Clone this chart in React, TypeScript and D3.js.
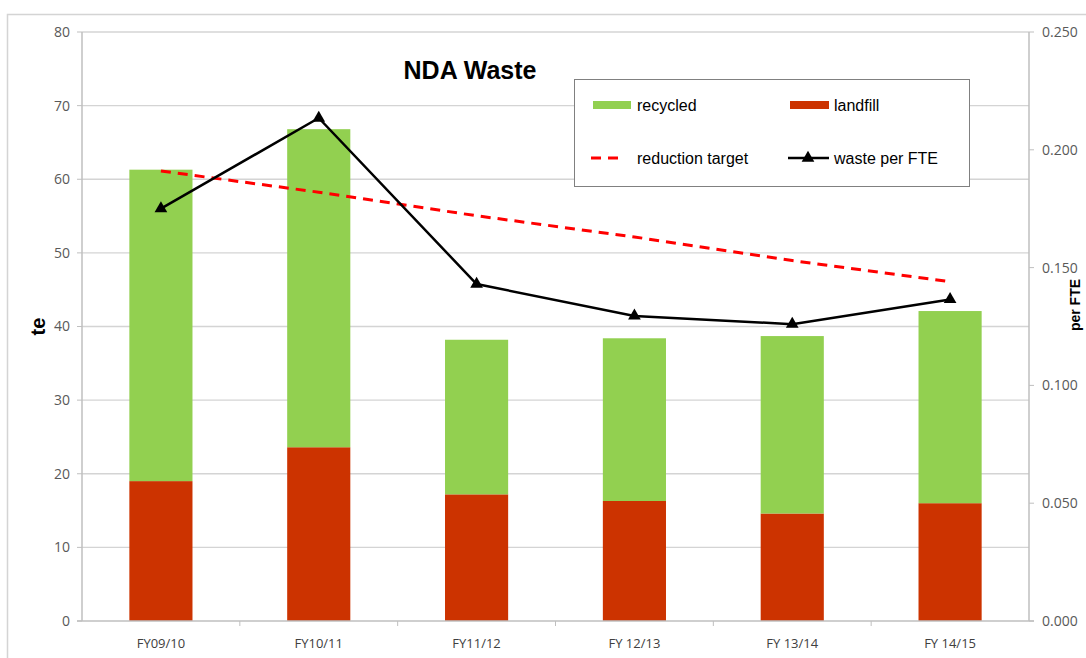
import React from 'react';
import * as d3 from 'd3';

const categories = ['FY09/10', 'FY10/11', 'FY11/12', 'FY 12/13', 'FY 13/14', 'FY 14/15'];
const landfill = [19.0, 23.6, 17.2, 16.3, 14.6, 16.0];
const recycled = [42.3, 43.2, 21.0, 22.1, 24.1, 26.1];
const wastePerFte = [0.175, 0.2135, 0.143, 0.1295, 0.126, 0.1365];
const reductionTarget = [0.191, 0.182, 0.172, 0.163, 0.153, 0.144];
const leftTicks = [0, 10, 20, 30, 40, 50, 60, 70, 80];
const rightTicks = [0, 0.05, 0.1, 0.15, 0.2, 0.25];

const W = 1086;
const H = 658;
const plot = {left: 82, top: 32, right: 1029, bottom: 621};

const GREEN = '#92D050';
const RED = '#CC3300';
const GRID = '#D4D4D4';
const AXIS = '#BFBFBF';
const TICK_FONT = '"Open Sans", "DejaVu Sans", sans-serif';
const LEG_FONT = '"Liberation Sans", Arial, sans-serif';

export default function App() {
  const x = d3.scaleBand<string>()
    .domain(categories)
    .range([plot.left, plot.right])
    .paddingInner(0.6)
    .paddingOuter(0.3);
  const band = d3.scaleBand<string>().domain(categories).range([plot.left, plot.right]);
  const y = d3.scaleLinear().domain([0, 80]).range([plot.bottom, plot.top]);
  const y2 = d3.scaleLinear().domain([0, 0.25]).range([plot.bottom, plot.top]);
  const cx = (c: string) => (band(c) as number) + band.bandwidth() / 2;

  const line = d3.line<number>()
    .x((_, i) => cx(categories[i]))
    .y(d => y2(d));
  const tri = d3.symbol().type(d3.symbolTriangle).size(70)();

  return (
    <svg width={W} height={H} style={{position: 'absolute', left: 0, top: 0, background: '#fff'}}>
      <rect x={7.5} y={14.5} width={W} height={H} fill="none" stroke={GRID} strokeWidth={1.5}/>

      {leftTicks.map(t => (
        <g key={'l' + t}>
          {t > 0 && <line x1={plot.left} x2={plot.right} y1={y(t)} y2={y(t)} stroke={GRID} strokeWidth={1.3}/>}
          <line x1={plot.left - 5} x2={plot.left} y1={y(t)} y2={y(t)} stroke={AXIS}/>
          <text x={plot.left - 12} y={y(t)} dy="0.35em" textAnchor="end" fontSize={14}
            fontFamily={TICK_FONT} fill="#595959">{t}</text>
        </g>
      ))}

      {rightTicks.map(t => (
        <g key={'r' + t}>
          <line x1={plot.right} x2={plot.right + 5} y1={y2(t)} y2={y2(t)} stroke={AXIS}/>
          <text x={plot.right + 13} y={y2(t)} dy="0.35em" textAnchor="start" fontSize={14}
            fontFamily={TICK_FONT} fill="#595959">{t.toFixed(3)}</text>
        </g>
      ))}

      {categories.map((c, i) => (
        <g key={c}>
          <rect x={x(c)} width={x.bandwidth()} y={y(landfill[i])}
            height={y(0) - y(landfill[i])} fill={RED}/>
          <rect x={x(c)} width={x.bandwidth()} y={y(landfill[i] + recycled[i])}
            height={y(landfill[i]) - y(landfill[i] + recycled[i])} fill={GREEN}/>
          <text x={cx(c)} y={643} dy="0.35em" textAnchor="middle" fontSize={13}
            fontFamily={TICK_FONT} fill="#404040">{c}</text>
        </g>
      ))}

      {categories.slice(1).map(c => (
        <line key={'xt' + c} x1={band(c)} x2={band(c)} y1={plot.bottom} y2={plot.bottom + 5} stroke={AXIS}/>
      ))}

      <line x1={plot.left} x2={plot.left} y1={plot.top} y2={plot.bottom} stroke={AXIS} strokeWidth={1.5}/>
      <line x1={plot.right} x2={plot.right} y1={plot.top} y2={plot.bottom} stroke={AXIS} strokeWidth={1.5}/>
      <line x1={plot.left - 5} x2={plot.right + 5} y1={plot.bottom} y2={plot.bottom} stroke={AXIS} strokeWidth={1.5}/>

      <path d={line(reductionTarget) as string} fill="none" stroke="#FF0000" strokeWidth={3}
        strokeDasharray="10,7"/>
      <path d={line(wastePerFte) as string} fill="none" stroke="#000" strokeWidth={2.5}/>
      {wastePerFte.map((v, i) => (
        <path key={'m' + i} d={tri as string} transform={`translate(${cx(categories[i])},${y2(v)})`} fill="#000"/>
      ))}

      <text x={470} y={70} dy="0.35em" textAnchor="middle" fontSize={25} fontWeight="bold"
        fontFamily={LEG_FONT} fill="#000">NDA Waste</text>

      <text transform={`translate(38,${(plot.top + plot.bottom) / 2}) rotate(-90)`} textAnchor="middle"
        dy="0.35em" fontSize={20} fontWeight="bold" fontFamily={LEG_FONT}>te</text>
      <text transform={`translate(1075,305) rotate(-90)`} textAnchor="middle"
        dy="0.35em" fontSize={14} fontWeight="bold" fontFamily={LEG_FONT}>per FTE</text>

      <g fontFamily={LEG_FONT} fontSize={16} fill="#000">
        <rect x={574.5} y={79.5} width={395} height={107} fill="#fff" stroke="#808080"/>
        <rect x={593} y={101} width={38} height={8} fill={GREEN}/>
        <text x={637} y={105} dy="0.35em">recycled</text>
        <rect x={790} y={101} width={39} height={8} fill={RED}/>
        <text x={834} y={105} dy="0.35em">landfill</text>
        <line x1={591} x2={625} y1={158} y2={158} stroke="#FF0000" strokeWidth={3} strokeDasharray="10,7"/>
        <text x={637} y={158} dy="0.35em">reduction target</text>
        <line x1={788} x2={829} y1={158} y2={158} stroke="#000" strokeWidth={2.5}/>
        <path d={tri as string} transform="translate(808,158)" fill="#000"/>
        <text x={834} y={158} dy="0.35em">waste per FTE</text>
      </g>
    </svg>
  );
}
